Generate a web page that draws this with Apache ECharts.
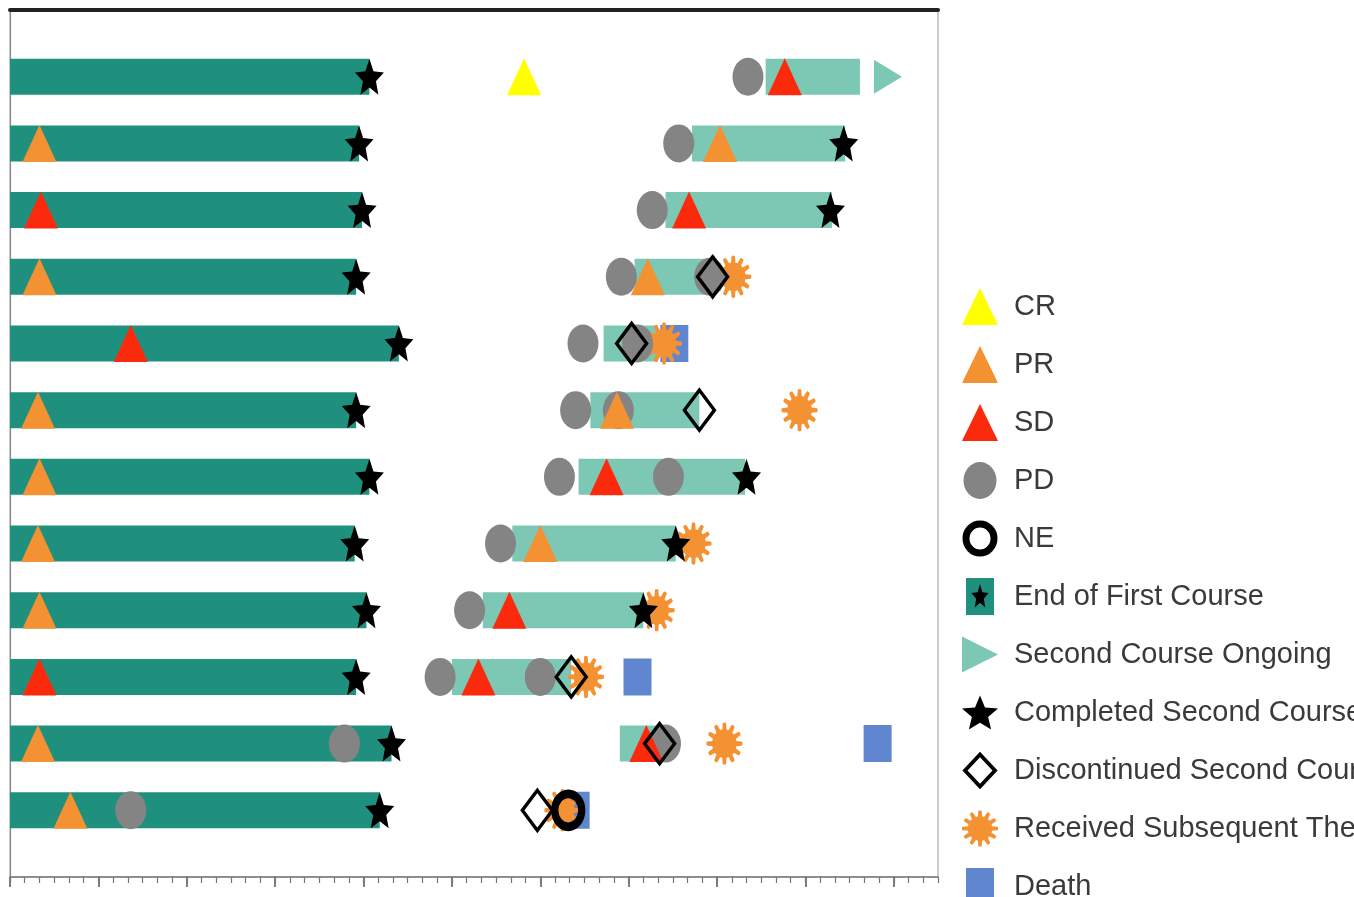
<!DOCTYPE html>
<html>
<head>
<meta charset="utf-8">
<title>Swimmer plot</title>
<script src="https://cdn.jsdelivr.net/npm/echarts@6/dist/echarts.min.js"></script>
<style>
  html, body { margin: 0; padding: 0; background: #ffffff; }
  #chart { width: 1354px; height: 897px; }
</style>
</head>
<body>
<div id="chart"></div>
<script>
// Patients, top to bottom (y value = row number); time in months on x
const rows = [1, 2, 3, 4, 5, 6, 7, 8, 9, 10, 11, 12];

// First course: from month 0 to the end of the course
const firstCourseEnd = [24.4, 23.7, 23.9, 23.5, 26.4, 23.5, 24.4, 23.4, 24.2, 23.5, 25.9, 25.1];

// Second course: start / end month (null = no second course bar)
const secondStart = [51.3, 46.3, 44.5, 42.4, 40.3, 39.4, 38.6, 34.1, 32.1, 30.0, 41.4, null];
const secondEnd   = [57.7, 56.7, 55.8, 47.6, 44.0, 46.8, 49.9, 45.2, 43.0, 38.1, 44.1, null];

// Response assessments: [month, row]
const crEvents = [[34.9, 1]];
const prEvents = [[2.0, 2], [48.2, 2], [2.0, 4], [43.3, 4], [1.9, 6], [41.2, 6], [2.0, 7],
                  [1.9, 8], [36.0, 8], [2.0, 9], [1.9, 11], [4.1, 12]];
const sdEvents = [[52.6, 1], [2.1, 3], [46.1, 3], [8.2, 5], [40.5, 7], [33.9, 9],
                  [2.0, 10], [31.8, 10], [43.2, 11]];
const pdEvents = [[50.1, 1], [45.4, 2], [43.6, 3], [41.5, 4], [47.5, 4], [38.9, 5], [42.6, 5],
                  [38.4, 6], [41.3, 6], [37.3, 7], [44.7, 7], [33.3, 8], [31.2, 9], [29.2, 10],
                  [36.0, 10], [22.7, 11], [44.5, 11], [8.2, 12]];
const neEvents = [[37.9, 12]];

// Treatment events: [month, row]
const ongoingEvents      = [[59.6, 1]];
const completedEvents    = [[56.6, 2], [55.7, 3], [50.0, 7], [45.2, 8], [43.0, 9]];
const discontinuedEvents = [[47.7, 4], [42.2, 5], [46.8, 6], [38.1, 10], [44.1, 11], [35.8, 12]];
const subsequentEvents   = [[49.1, 4], [44.4, 5], [53.6, 6], [46.4, 8], [43.9, 9], [39.1, 10],
                            [48.5, 11], [37.5, 12]];
const deathEvents        = [[45.1, 5], [42.6, 10], [58.9, 11], [38.4, 12]];

// Axis ticks
const xMax = 63;
const majorTicks = [0, 6, 12, 18, 24, 30, 36, 42, 48, 54, 60];

// ---- colours and marker shapes ----
const C = {
  dark: '#20907e', light: '#7cc8b5', yellow: '#ffff00', orange: '#f39133',
  red: '#fb2a0c', gray: '#848484', blue: '#5f86cf', black: '#000000'
};

function starPoints(cx, cy, rx, ry, inner) {
  const pts = [];
  for (let i = 0; i < 10; i++) {
    const a = -Math.PI / 2 + i * Math.PI / 5;
    const r = i % 2 === 0 ? 1 : inner;
    pts.push([cx + rx * r * Math.cos(a), cy + ry * r * Math.sin(a)]);
  }
  return pts;
}
const starPath = 'path://M' + starPoints(50, 50, 50, 50, 0.45)
  .map(p => p[0].toFixed(2) + ',' + p[1].toFixed(2)).join(' L') + ' Z';

function gearPath(teeth) {
  const n = teeth * 16;
  const pts = [];
  for (let i = 0; i < n; i++) {
    const t = (i / n) * Math.PI * 2;
    const c = Math.cos(teeth * t);
    const k = Math.max(-1, Math.min(1, c * 2.2));
    const r = 42 + 8 * k;
    pts.push((50 + r * Math.cos(t)).toFixed(2) + ',' + (50 + r * Math.sin(t)).toFixed(2));
  }
  return 'path://M' + pts.join(' L') + ' Z';
}
const gear = gearPath(12);
const arrowPath = 'path://M0,0 L10,5 L0,10 Z';

// Legend icons drawn as small SVG images (two-colour block, thick ring, outlined diamond, narrow block)
function svgIcon(body) {
  const svg = "<svg xmlns='http://www.w3.org/2000/svg' width='36' height='37'>" + body + "</svg>";
  return 'image://data:image/svg+xml;charset=utf-8,' + encodeURIComponent(svg);
}
const firstIcon = svgIcon(
  "<rect x='4' y='0' width='28' height='37' fill='" + C.dark + "'/>" +
  "<polygon fill='#000' points='" +
  starPoints(18, 19, 9, 13, 0.45).map(p => p[0].toFixed(2) + ',' + p[1].toFixed(2)).join(' ') +
  "'/>");
const ringIcon = svgIcon("<ellipse cx='18' cy='18.5' rx='14' ry='14.5' fill='none' stroke='#000' stroke-width='7'/>");
const diamondIcon = svgIcon("<polygon points='18,2.5 33,18.5 18,34.5 3,18.5' fill='none' stroke='#000' stroke-width='3.8'/>");
const deathIcon = svgIcon("<rect x='4' y='0' width='28' height='37' fill='" + C.blue + "'/>");
const pdIcon = svgIcon("<ellipse cx='18' cy='18.5' rx='16.5' ry='18.5' fill='" + C.gray + "'/>");

// ---- bar data built from the arrays above ----
const firstBars = rows.map((r, i) => [0, firstCourseEnd[i], r]);
const secondBars = rows
  .map((r, i) => [secondStart[i], secondEnd[i], r])
  .filter(d => d[0] !== null);
const firstEndMarks = rows.map((r, i) => [firstCourseEnd[i], r]);

const BAR_FRACTION = 0.54;
function barRenderer(fill) {
  return function (params, api) {
    const p0 = api.coord([api.value(0), api.value(2)]);
    const p1 = api.coord([api.value(1), api.value(2)]);
    const h = api.size([0, 1])[1] * BAR_FRACTION;
    return {
      type: 'rect',
      shape: { x: p0[0], y: p0[1] - h / 2, width: p1[0] - p0[0], height: h },
      style: { fill: fill }
    };
  };
}

function scatter(name, data, symbol, size, itemStyle) {
  return {
    name: name, type: 'scatter', data: data, symbol: symbol, symbolSize: size,
    itemStyle: itemStyle, emphasis: { disabled: true }, silent: true
  };
}

const chart = echarts.init(document.getElementById('chart'), null, { renderer: 'canvas' });

chart.setOption({
  backgroundColor: '#ffffff',
  animation: false,
  grid: {
    left: 10, right: 416, top: 10, bottom: 20,
    show: true, borderColor: '#9a9a9a', borderWidth: 1, backgroundColor: 'transparent'
  },
  xAxis: [
    {
      type: 'value', min: 0, max: xMax, interval: 6, position: 'bottom',
      axisLine: { show: true, onZero: false, lineStyle: { color: '#7a7a7a', width: 1.5 } },
      axisTick: { show: true, length: 10, customValues: majorTicks,
                  lineStyle: { color: '#555', width: 1.5 } },
      axisLabel: { show: false },
      splitLine: { show: false }
    },
    {
      type: 'value', min: 0, max: xMax, interval: 1, position: 'bottom',
      axisLine: { show: false, onZero: false },
      axisTick: { show: true, length: 6, lineStyle: { color: '#777', width: 1.2 } },
      axisLabel: { show: false },
      splitLine: { show: false }
    },
    {
      type: 'value', min: 0, max: xMax, position: 'top',
      axisLine: { show: true, onZero: false, lineStyle: { color: '#222', width: 4 } },
      axisTick: { show: false }, axisLabel: { show: false }, splitLine: { show: false }
    }
  ],
  yAxis: {
    type: 'value', min: 0, max: 13, inverse: true,
    axisLine: { show: true, onZero: false, lineStyle: { color: '#8a8a8a', width: 1.2 } },
    axisTick: { show: false }, axisLabel: { show: false }, splitLine: { show: false }
  },
  legend: {
    orient: 'vertical', left: 957, top: 283, height: 640,
    itemWidth: 36, itemHeight: 37, itemGap: 21,
    selectedMode: false,
    textStyle: {
      fontFamily: 'Liberation Sans, Arial, sans-serif', fontSize: 29,
      color: '#3a3a3a', lineHeight: 37, padding: [0, 0, 0, 11]
    },
    data: [
      'CR', 'PR', 'SD',
      { name: 'PD', icon: pdIcon },
      { name: 'NE', icon: ringIcon },
      { name: 'End of First Course', icon: firstIcon },
      'Second Course Ongoing', 'Completed Second Course',
      { name: 'Discontinued Second Course', icon: diamondIcon },
      'Received Subsequent Therapy',
      { name: 'Death', icon: deathIcon }
    ]
  },
  series: [
    {
      name: 'Second Course', type: 'custom', renderItem: barRenderer(C.light),
      data: secondBars, encode: { x: [0, 1], y: 2 }, silent: true
    },
    {
      name: 'End of First Course', type: 'custom', renderItem: barRenderer(C.dark),
      data: firstBars, encode: { x: [0, 1], y: 2 }, silent: true,
      itemStyle: { color: C.dark }
    },
    scatter('Death', deathEvents, 'rect', [28, 37], { color: C.blue, opacity: 1 }),
    scatter('Received Subsequent Therapy', subsequentEvents, gear, [36, 42], { color: C.orange, opacity: 1 }),
    scatter('PD', pdEvents, 'circle', [31, 38], { color: C.gray, opacity: 1 }),
    scatter('CR', crEvents, 'triangle', [34, 37], { color: C.yellow, opacity: 1 }),
    scatter('PR', prEvents, 'triangle', [34, 37], { color: C.orange, opacity: 1 }),
    scatter('SD', sdEvents, 'triangle', [34, 37], { color: C.red, opacity: 1 }),
    scatter('NE', neEvents, 'circle', [27, 33],
            { color: 'rgba(0,0,0,0)', borderColor: C.black, borderWidth: 8, opacity: 1 }),
    scatter('End of First Course', firstEndMarks, starPath, [29, 36], { color: C.black, opacity: 1 }),
    scatter('Completed Second Course', completedEvents, starPath, [29, 36], { color: C.black, opacity: 1 }),
    scatter('Discontinued Second Course', discontinuedEvents, 'diamond', [30, 40],
            { color: 'rgba(0,0,0,0)', borderColor: C.black, borderWidth: 3.5, opacity: 1 }),
    scatter('Second Course Ongoing', ongoingEvents, arrowPath, [28, 34], { color: C.light, opacity: 1 })
  ]
});
</script>
</body>
</html>
